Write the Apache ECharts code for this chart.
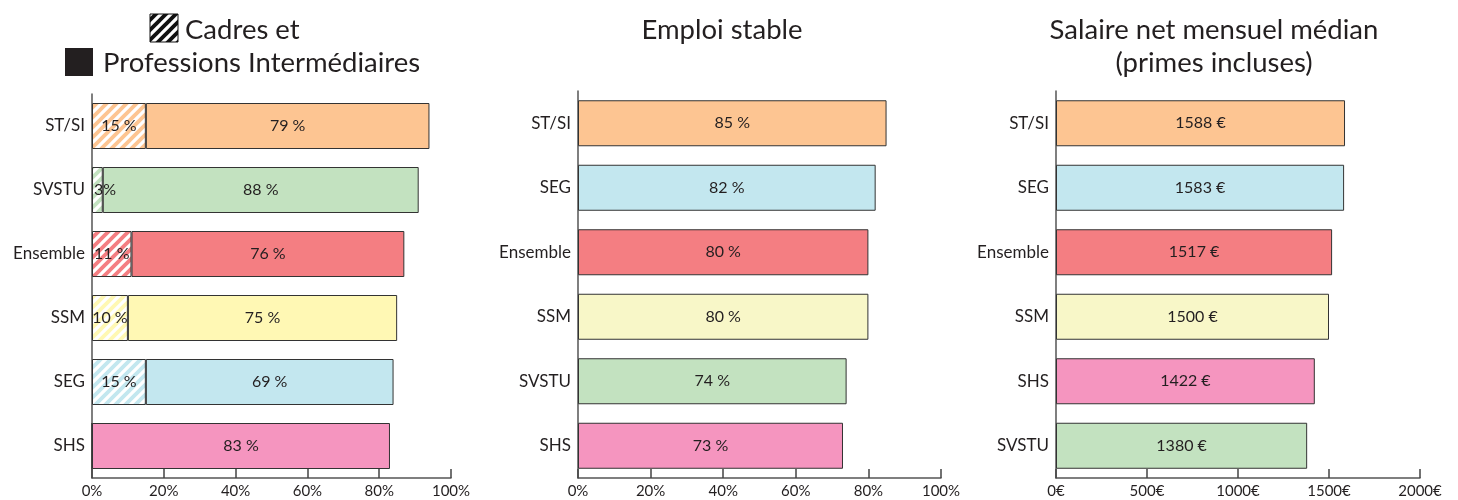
<!DOCTYPE html>
<html>
<head>
<meta charset="utf-8">
<script src="https://cdn.jsdelivr.net/npm/echarts@6/dist/echarts.min.js"></script>
<style>
html,body{margin:0;padding:0;background:#fff;}
#c{width:1458px;height:500px;}
</style>
</head>
<body>
<div id="c"></div>
<script>
// ---- data ----
const cats1 = ['ST/SI','SVSTU','Ensemble','SSM','SEG','SHS'];
const cadres1 = [15,3,11,10,15,0];
const profInt1 = [79,88,76,75,69,83];

const cats2 = ['ST/SI','SEG','Ensemble','SSM','SVSTU','SHS'];
const emploi2 = [85,82,80,80,74,73];

const cats3 = ['ST/SI','SEG','Ensemble','SSM','SHS','SVSTU'];
const salaire3 = [1588,1583,1517,1500,1422,1380];

// ---- styles ----
const FONT = 'Lato';
const TXT = '#231F20';
const colorA = {'ST/SI':'#FDC592','SVSTU':'#C3E2C0','Ensemble':'#F47E82','SSM':'#FFF8B4','SEG':'#C3E7EF','SHS':'#F595BF'};
const colorB = {'ST/SI':'#FDC592','SVSTU':'#C3E2C0','Ensemble':'#F47E82','SSM':'#F8F7C8','SEG':'#C3E7EF','SHS':'#F595BF'};

function hatch(color, bg){
  const s = 10;
  const cv = document.createElement('canvas');
  cv.width = s; cv.height = s;
  const g = cv.getContext('2d');
  g.fillStyle = bg || '#fff';
  g.fillRect(0,0,s,s);
  g.strokeStyle = color;
  g.lineWidth = 3.8;
  g.lineCap = 'square';
  [[0,s,s,0],[-s/2,s/2,s/2,-s/2],[s/2,s*1.5,s*1.5,s/2]].forEach(l=>{
    g.beginPath(); g.moveTo(l[0],l[1]); g.lineTo(l[2],l[3]); g.stroke();
  });
  return {image: cv, repeat: 'repeat'};
}

const chart = echarts.init(document.getElementById('c'), null, {renderer:'canvas'});

const axisLine = {show:true, lineStyle:{color:'#555', width:1.5}};
function yAxis(idx, cats){
  return {type:'category', gridIndex:idx, data:cats, inverse:true,
    axisLine:axisLine, axisTick:{show:false},
    axisLabel:{color:TXT, fontSize:17, fontFamily:FONT, margin:7}};
}
function xAxis(idx, max, interval, unit){
  return {type:'value', gridIndex:idx, min:0, max:max, interval:interval,
    axisLine:axisLine, axisTick:{show:true, inside:true, length:9, lineStyle:{color:'#444', width:1.5}},
    splitLine:{show:false},
    axisLabel:{color:TXT, fontSize:15, fontFamily:FONT, margin:6, formatter:v=>v+unit}};
}
const barBase = {type:'bar', barWidth:46,
  label:{show:true, position:'inside', color:TXT, fontSize:16, fontFamily:FONT}};

const cadresData = cadres1.map((v,i)=>({value:v,
  itemStyle:{color:hatch(colorA[cats1[i]]), borderColor:'#333', borderWidth:1},
  label: v>0 && v<5 ? {position:'insideLeft', distance:2} : {}}));
const piData = profInt1.map((v,i)=>({value:v, itemStyle:{color:colorA[cats1[i]], borderColor:'#333', borderWidth:1}}));
const emploiData = emploi2.map((v,i)=>({value:v, itemStyle:{color:colorB[cats2[i]], borderColor:'#333', borderWidth:1}}));
const salData = salaire3.map((v,i)=>({value:v, itemStyle:{color:colorB[cats3[i]], borderColor:'#333', borderWidth:1}}));

const TF = '27.5px ' + FONT;
const option = {
  animation:false,
  backgroundColor:'#fff',
  grid:[
    {left:92, width:359, top:94, bottom:22},
    {left:578, width:363, top:91, bottom:22},
    {left:1056, width:364, top:91, bottom:22}
  ],
  xAxis:[xAxis(0,100,20,'%'), xAxis(1,100,20,'%'), xAxis(2,2000,500,'€')],
  yAxis:[yAxis(0,cats1), yAxis(1,cats2), yAxis(2,cats3)],
  series:[
    Object.assign({}, barBase, {name:'Cadres', stack:'a', xAxisIndex:0, yAxisIndex:0, data:cadresData,
      label:Object.assign({}, barBase.label, {formatter:p=> p.value===0 ? '' : (p.value<5 ? p.value+'%' : p.value+' %')})}),
    Object.assign({}, barBase, {name:'Professions Intermédiaires', stack:'a', xAxisIndex:0, yAxisIndex:0, data:piData,
      label:Object.assign({}, barBase.label, {formatter:'{c} %'})}),
    Object.assign({}, barBase, {name:'Emploi stable', xAxisIndex:1, yAxisIndex:1, data:emploiData,
      label:Object.assign({}, barBase.label, {formatter:'{c} %'})}),
    Object.assign({}, barBase, {name:'Salaire', xAxisIndex:2, yAxisIndex:2, data:salData,
      label:Object.assign({}, barBase.label, {formatter:'{c} €'})})
  ],
  graphic:[
    {type:'rect', shape:{x:150, y:14, width:28, height:28}, style:{fill:hatch('#111','#fff'), stroke:'#111', lineWidth:1}},
    {type:'text', x:185, y:30, style:{text:'Cadres et', font:TF, fill:TXT, textAlign:'left', textVerticalAlign:'middle'}},
    {type:'rect', shape:{x:65, y:48, width:28, height:28}, style:{fill:'#231F20'}},
    {type:'text', x:103, y:63, style:{text:'Professions Intermédiaires', font:TF, fill:TXT, textAlign:'left', textVerticalAlign:'middle'}},
    {type:'text', x:722, y:30, style:{text:'Emploi stable', font:TF, fill:TXT, textAlign:'center', textVerticalAlign:'middle'}},
    {type:'text', x:1214, y:30, style:{text:'Salaire net mensuel médian', font:TF, fill:TXT, textAlign:'center', textVerticalAlign:'middle'}},
    {type:'text', x:1214, y:63, style:{text:'(primes incluses)', font:TF, fill:TXT, textAlign:'center', textVerticalAlign:'middle'}}
  ]
};
chart.setOption(option);
</script>
</body>
</html>
